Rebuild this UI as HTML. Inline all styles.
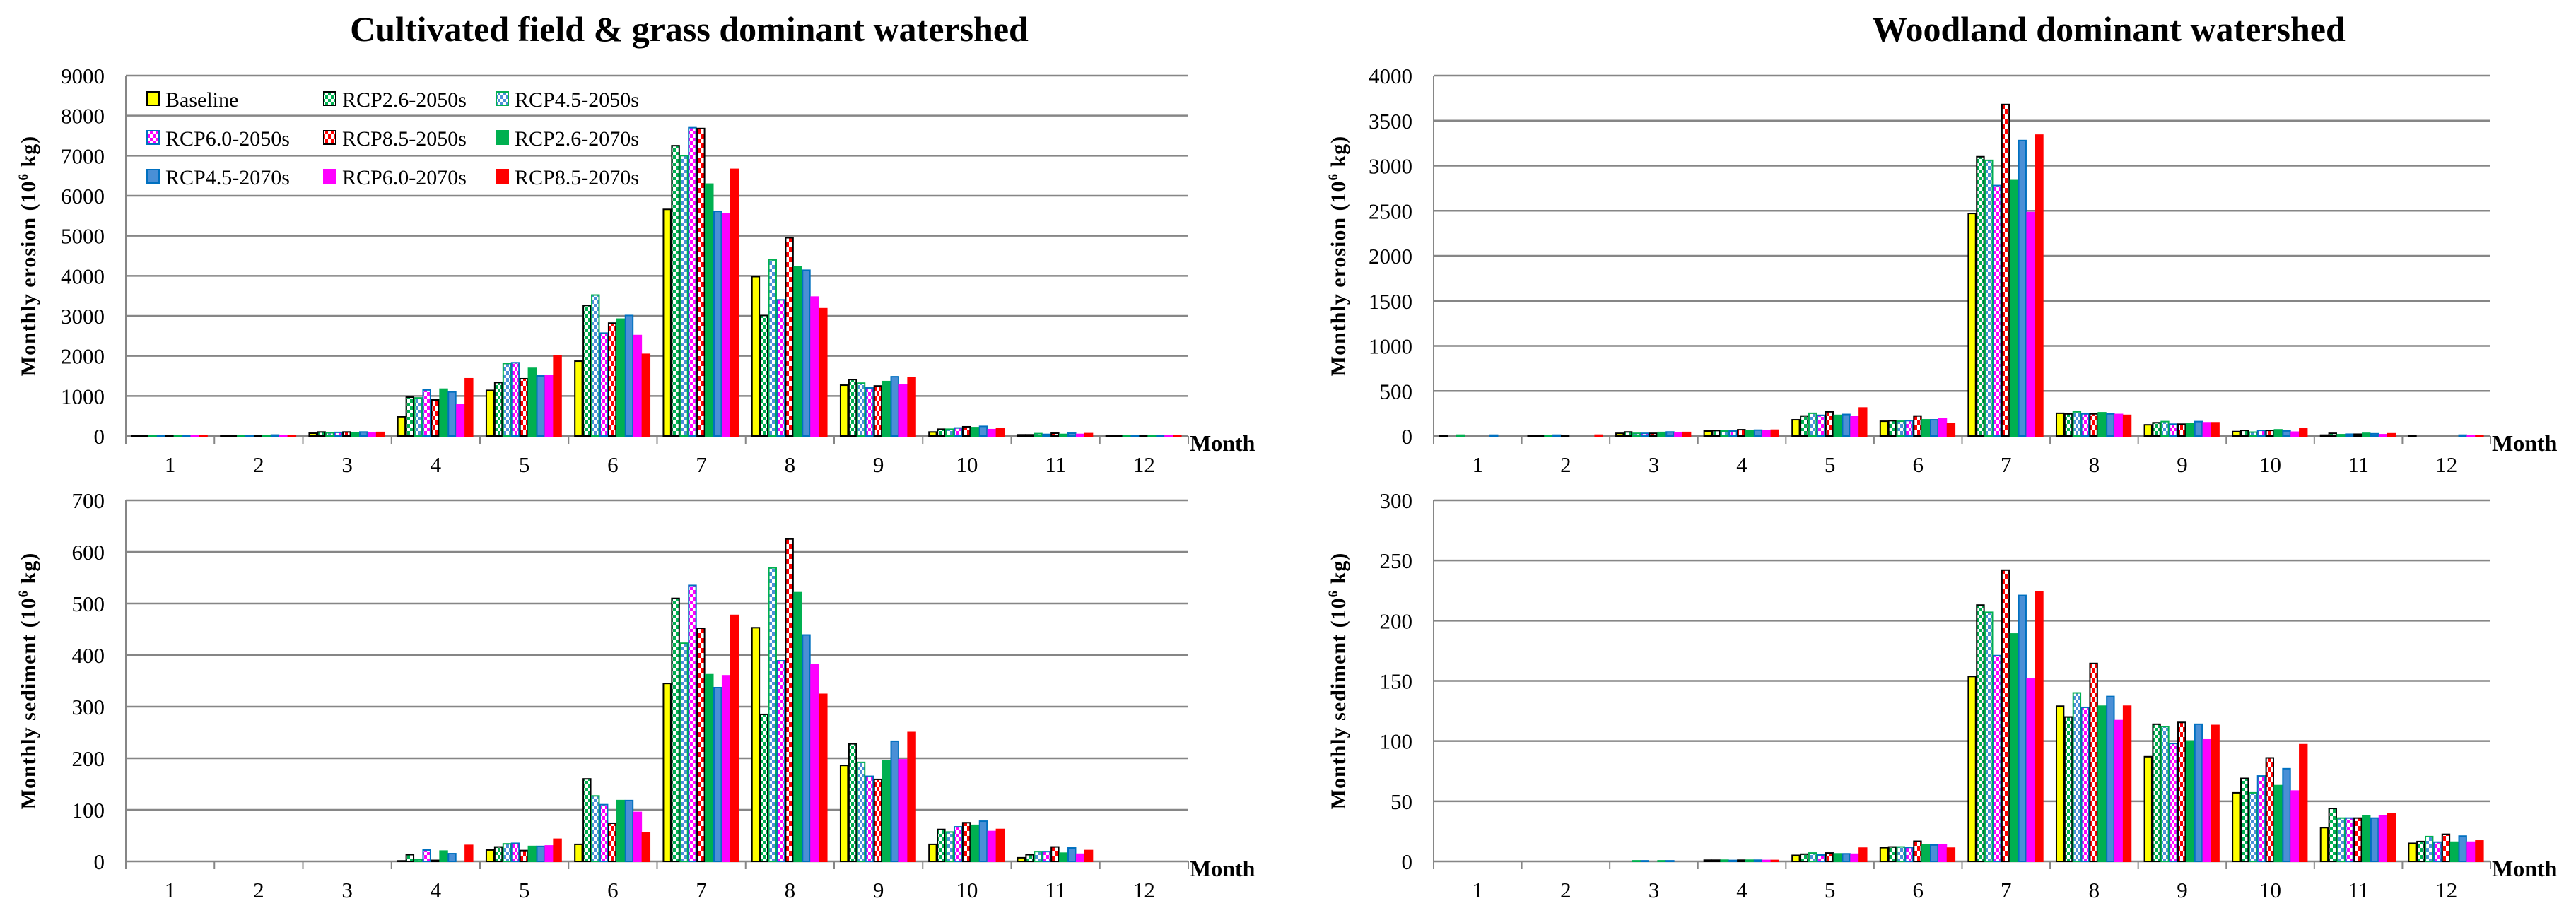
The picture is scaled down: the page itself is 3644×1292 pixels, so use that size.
<!DOCTYPE html>
<html><head><meta charset="utf-8"><style>
html,body{margin:0;padding:0;background:#fff;}
svg{display:block;font-family:"Liberation Serif",serif;}
</style></head><body>
<svg id="root" width="3644" height="1292" viewBox="0 0 3644 1292" xmlns="http://www.w3.org/2000/svg">
<defs>
<pattern id="pG" width="8" height="10" patternUnits="userSpaceOnUse"><rect width="8" height="10" fill="#fff"/><rect x="0" y="0" width="4" height="5" fill="#00b050"/><rect x="4" y="5" width="4" height="5" fill="#00b050"/></pattern>
<pattern id="pB" width="8" height="10" patternUnits="userSpaceOnUse"><rect width="8" height="10" fill="#fff"/><rect x="0" y="0" width="4" height="5" fill="#4a8fd6"/><rect x="4" y="5" width="4" height="5" fill="#4a8fd6"/></pattern>
<pattern id="pM" width="8" height="10" patternUnits="userSpaceOnUse"><rect width="8" height="10" fill="#fff"/><rect x="0" y="0" width="4" height="5" fill="#ff00ff"/><rect x="4" y="5" width="4" height="5" fill="#ff00ff"/></pattern>
<pattern id="pR" width="8" height="14" patternUnits="userSpaceOnUse"><rect width="8" height="14" fill="#fff"/><rect x="4" y="0" width="4" height="7" fill="#ff0000"/><rect x="0" y="7" width="4" height="7" fill="#ff0000"/></pattern>
</defs>
<text x="975" y="58" font-size="50" font-weight="bold" text-anchor="middle">Cultivated field &amp; grass dominant watershed</text>
<text x="2983" y="58" font-size="50" font-weight="bold" text-anchor="middle">Woodland dominant watershed</text>
<g id="charts"></g>
<g id="legend"></g>
</svg>
<script>
const months = ["1","2","3","4","5","6","7","8","9","10","11","12"];
const seriesNames = ["Baseline","RCP2.6-2050s","RCP4.5-2050s","RCP6.0-2050s","RCP8.5-2050s","RCP2.6-2070s","RCP4.5-2070s","RCP6.0-2070s","RCP8.5-2070s"];
const erosionCultivated = [
 [5,5,10,5,5,10,15,5,5],
 [5,10,5,5,10,15,25,10,5],
 [70,100,80,90,100,80,100,70,90],
 [480,970,950,1150,900,1170,1100,790,1430],
 [1140,1335,1810,1830,1430,1690,1500,1500,2000],
 [1870,3260,3520,2570,2820,2920,3010,2510,2040],
 [5660,7250,7000,7700,7680,6290,5610,5550,6660],
 [3980,3010,4400,3400,4950,4230,4140,3470,3180],
 [1270,1410,1320,1200,1250,1360,1480,1270,1450],
 [100,170,170,200,230,210,240,160,190],
 [30,30,60,40,70,40,70,40,60],
 [5,15,5,5,5,5,15,5,5]
];
const erosionWoodland = [
 [5,0,10,0,0,0,10,0,0],
 [5,5,5,10,5,0,0,0,10],
 [30,45,30,30,30,40,45,35,40],
 [55,60,55,55,70,60,65,55,65],
 [180,222,252,229,268,229,239,219,311],
 [164,170,164,170,222,180,180,190,137],
 [2470,3100,3060,2780,3680,2835,3280,2480,3340],
 [252,245,268,245,245,258,245,239,229],
 [124,147,160,131,131,137,160,147,147],
 [49,62,43,62,62,69,56,43,82],
 [10,30,15,20,20,30,25,15,25],
 [5,0,0,0,0,0,10,5,5]
];
const sedimentCultivated = [
 [0,0,0,0,0,0,0,0,0],
 [0,0,0,0,0,0,0,0,0],
 [0,0,0,0,0,0,0,0,0],
 [1,13,3,22,2,20,15,0,31],
 [22,28,34,35,21,29,29,30,43],
 [33,160,127,110,74,118,118,95,55],
 [345,510,423,535,452,362,337,360,477],
 [453,285,569,389,625,521,439,382,324],
 [186,228,192,165,159,195,233,197,250],
 [33,62,57,67,75,70,78,58,62],
 [7,13,19,19,28,16,26,14,21],
 [0,0,0,0,0,0,0,0,0]
];
const sedimentWoodland = [
 [0,0,0,0,0,0,0,0,0],
 [0,0,0,0,0,0,0,0,0],
 [0,0,0.5,0.5,0,0.5,0.5,0,0],
 [1,1,1,0.8,1,1,1,0.8,0.8],
 [5,6,7,5.3,7,6.3,6.3,6,11],
 [11.4,12,12,11.6,16.7,14,13.6,14,11],
 [153.6,213,207,171,242,189,221,152,224],
 [129,120,140,128,164.5,129,137,117,129],
 [87,114,112,98,115.5,100,114,101,113],
 [57,69,57,71,86,63,77,58.5,97],
 [28,44,36,36,36,38,36,38,39.5],
 [15,16.5,20.6,16,22.5,16,21,16,17]
];
const ticksErosionCult = [0,1000,2000,3000,4000,5000,6000,7000,8000,9000];
const ticksErosionWood = [0,500,1000,1500,2000,2500,3000,3500,4000];
const ticksSedCult = [0,100,200,300,400,500,600,700];
const ticksSedWood = [0,50,100,150,200,250,300];

const fills = ["#ffff00","url(#pG)","url(#pB)","url(#pM)","url(#pR)","#00b050","#4a8fd6","#ff00ff","#ff0000"];
const strokes = ["#000","#000","#00b050","#0070c0","#000","#00b050","#0070c0","#ff00ff","#ff0000"];
const NS = "http://www.w3.org/2000/svg";
function mk(tag, attrs, parent){const e=document.createElementNS(NS,tag);for(const k in attrs)e.setAttribute(k,attrs[k]);parent.appendChild(e);return e;}

function drawChart(id, data, ticks, box, ytitle){
  const g = mk('g',{},document.getElementById('charts'));
  
  
  const maxV = ticks[ticks.length-1];
  const y = v => box.y0 - (v/maxV)*(box.y0-box.y1);
  const catW = (box.x1-box.x0)/months.length;
  const step = catW/10.5;
  const x = (c,s) => box.x0 + c*catW + 0.75*step + s*step;
  ticks.forEach(t=>{
    const ln = mk('line',{x1:box.x0,x2:box.x1,y1:y(t),y2:y(t),stroke:'#868686','stroke-width':2.5},g);
    
    
    const tx = mk('text',{x:box.x0-30,y:y(t)+11,'font-size':31,'text-anchor':'end'},g);
    
    
    tx.textContent = t;
  });
  mk('line',{x1:box.x0,x2:box.x0,y1:box.y1,y2:box.y0+11,stroke:'#868686','stroke-width':2},g);
  for(let c=0;c<=months.length;c++){
    const xx = box.x0+c*catW;
    mk('line',{x1:xx,x2:xx,y1:box.y0,y2:box.y0+11,stroke:'#868686','stroke-width':2},g);
  }
  months.forEach((m,c)=>{
    const tx = mk('text',{x:box.x0+(c+0.5)*catW,y:box.y0+51,'font-size':31,'text-anchor':'middle'},g);
    
    
    tx.textContent = m;
  });
  data.forEach((row,c)=>{
    row.forEach((v,s)=>{
      const top = y(v), h = Math.max(0, box.y0-top);
      const r = mk('rect',{x:x(c,s),y:top,width:step-1.5,height:h,fill:fills[s],stroke:strokes[s],'stroke-width':h>0?2:0},g);
      
      
    });
  });
  const mt = mk('text',{x:box.x1+2,y:box.y0+21,'font-size':32,'font-weight':'bold'},g);
  
  
  mt.textContent='Month';
  const yt = mk('text',{x:0,y:0,'font-size':30,'font-weight':'bold','text-anchor':'middle','letter-spacing':'1',transform:`translate(${box.tx},${(box.y0+box.y1)/2}) rotate(-90)`},g);
  
  
  yt.innerHTML = ytitle+' (10<tspan dy="-11" font-size="19">6</tspan><tspan dy="11"> kg)</tspan>';
}
drawChart('chart-erosion-cultivated', erosionCultivated, ticksErosionCult, {x0:178,x1:1681,y0:617,y1:107,tx:50}, 'Monthly erosion');
drawChart('chart-erosion-woodland', erosionWoodland, ticksErosionWood, {x0:2028,x1:3523,y0:617,y1:107,tx:1903}, 'Monthly erosion');
drawChart('chart-sediment-cultivated', sedimentCultivated, ticksSedCult, {x0:178,x1:1681,y0:1219,y1:708,tx:50}, 'Monthly sediment');
drawChart('chart-sediment-woodland', sedimentWoodland, ticksSedWood, {x0:2028,x1:3523,y0:1219,y1:708,tx:1903}, 'Monthly sediment');

const lg = document.getElementById('legend');
const colX = [208,458,702], rowY = [140,195,250];
seriesNames.forEach((n,i)=>{
  const cx = colX[i%3], cy = rowY[Math.floor(i/3)];
  const r = mk('rect',{x:cx,y:cy-10,width:17,height:19,fill:fills[i],stroke:strokes[i],'stroke-width':2},lg);
  
  
  const t = mk('text',{x:cx+26,y:cy+11,'font-size':30},lg);
  
  
  t.textContent = n;
});
</script>
</body></html>
